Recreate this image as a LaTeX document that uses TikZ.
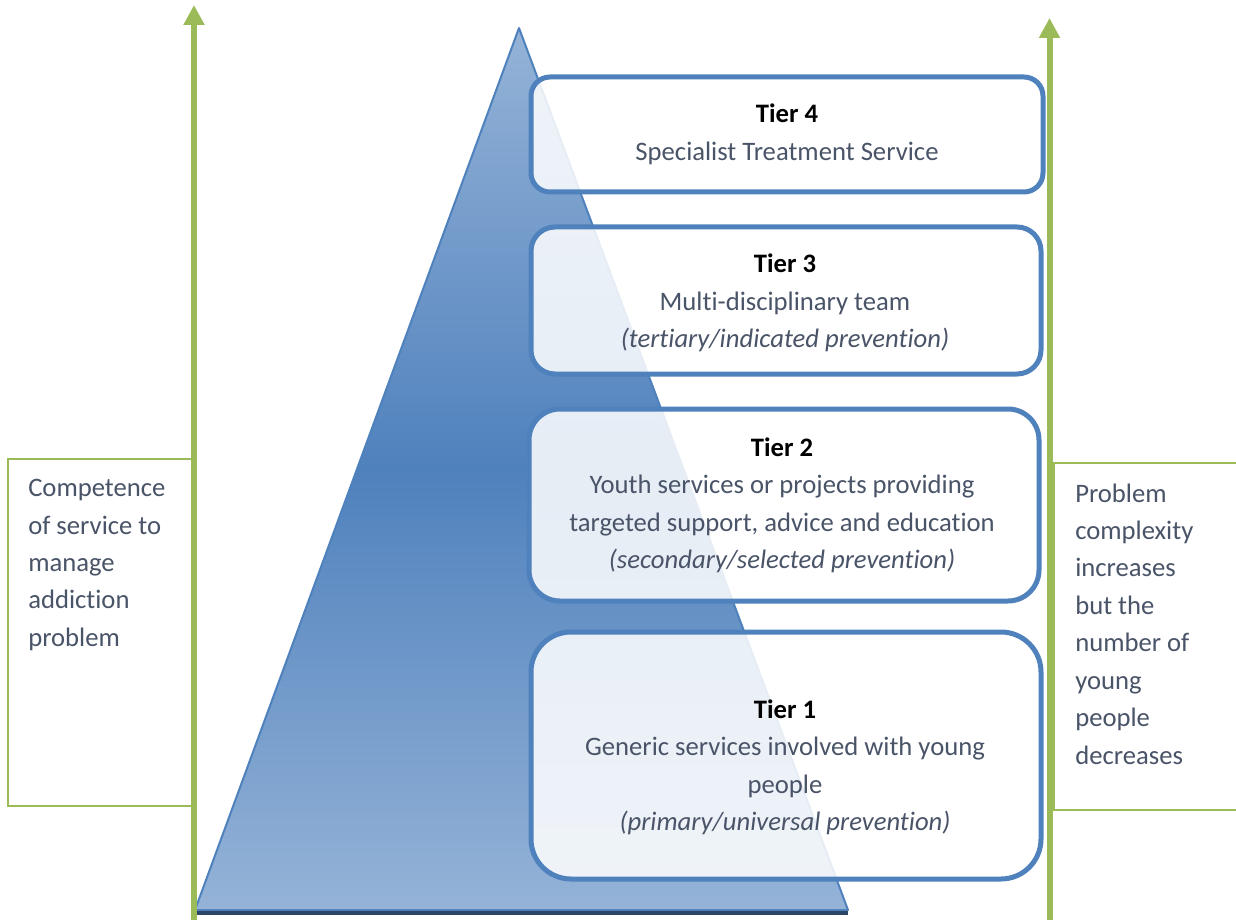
\documentclass[tikz,border=0pt]{standalone}
\usepackage{fontspec}
\setmainfont{Carlito}[Ligatures=NoCommon]
\usetikzlibrary{arrows.meta}
\definecolor{gline}{HTML}{9BBB59}
\definecolor{bline}{HTML}{4F81BD}
\definecolor{blight}{HTML}{95B3D7}
\definecolor{txt}{HTML}{4A5468}
\definecolor{shadowc}{HTML}{2A4566}
\begin{document}
\begin{tikzpicture}[x=0.75pt,y=-0.75pt,
  tierbox/.style={draw=bline, line width=3.75pt, fill=white, fill opacity=0.86},
  sidebox/.style={draw=gline, line width=1.5pt, fill=white},
  axisarrow/.style={draw=gline, line width=4.5pt, -{Triangle[width=15pt,length=15pt]}},
  body/.style={text=txt, font=\fontsize{20}{28.1}\selectfont, inner sep=0pt}
 ]
\useasboundingbox (0,0) rectangle (1236,920);
% side boxes
\draw[sidebox] (8,459) rectangle (194,806);
\draw[sidebox] (1054,463) rectangle (1240,810);
% pyramid
\shade[top color=blight, bottom color=blight, middle color=bline] (519,28) -- (848,910) -- (195,910) -- cycle;
\draw[bline, line width=1.5pt, line join=round] (519,28) -- (848,910) -- (195,910) -- cycle;
\draw[shadowc, line width=3pt] (197,913) -- (848,913);
% tier boxes
\draw[tierbox, rounded corners=19pt*0.75] (531,77) rectangle (1043,192);
\draw[tierbox, rounded corners=24pt*0.75] (531,227) rectangle (1041,374);
\draw[tierbox, rounded corners=31pt*0.75] (529,409) rectangle (1039,601);
\draw[tierbox, rounded corners=40pt*0.75] (531,632) rectangle (1041,879);
% arrows
\coordinate (la0) at (194,920);
\coordinate (la1) at (194,5);
\coordinate (ra0) at (1049.5,920);
\coordinate (ra1) at (1049.5,18);
\draw[axisarrow] (la0) -- (la1);
\draw[axisarrow] (ra0) -- (ra1);
% texts
\node[body, align=center] (t4) at (787,134.5) {{\color{black}\bfseries Tier 4}\\Specialist Treatment Service};
\node[body, align=center] (t3) at (785,303) {{\color{black}\bfseries Tier 3}\\Multi-disciplinary team\\\textit{(tertiary/indicated prevention)}};
\node[body, align=center] (t2) at (782,505.5) {{\color{black}\bfseries Tier 2}\\Youth services or projects providing\\targeted support, advice and education\\\textit{(secondary/selected prevention)}};
\node[body, align=center] (t1) at (785,767.5) {{\color{black}\bfseries Tier 1}\\Generic services involved with young\\people\\\textit{(primary/universal prevention)}};
\node[body, align=left, anchor=west] (lt) at (28,565) {Competence\\of service to\\manage\\addiction\\problem};
\node[body, align=left, anchor=west] (rt) at (1075,624) {Problem\\complexity\\increases\\but the\\number of\\young\\people\\decreases};
\end{tikzpicture}
\end{document}
